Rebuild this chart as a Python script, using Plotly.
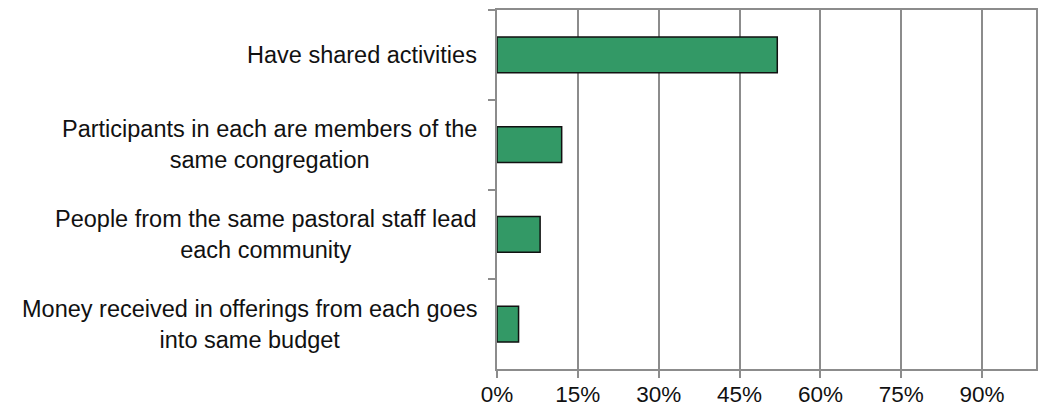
import plotly.graph_objects as go

# Survey items (top to bottom) and the share of respondents for each
categories = [
    "Have shared activities",
    "Participants in each are members of the<br>same congregation",
    "People from the same pastoral staff lead<br>each community",
    "Money received in offerings from each goes<br>into same budget",
]
shares = [0.52, 0.12, 0.08, 0.04]

x_tick_values = [0, 0.15, 0.30, 0.45, 0.60, 0.75, 0.90]
x_tick_labels = ["0%", "15%", "30%", "45%", "60%", "75%", "90%"]

line_gray = "#8c8c8c"
font_family = "Liberation Sans, Arial, sans-serif"

fig = go.Figure(
    go.Bar(
        x=shares,
        y=categories,
        orientation="h",
        width=0.4,
        marker=dict(color="#339966", line=dict(color="#111111", width=1.5)),
        hoverinfo="x+y",
    )
)

# Category labels: right-aligned block, each line centred within it
for cat in categories:
    fig.add_annotation(
        x=0,
        xref="paper",
        y=cat,
        yref="y",
        text=cat,
        showarrow=False,
        xanchor="right",
        yanchor="middle",
        align="center",
        xshift=-18,
        font=dict(family=font_family, size=23.5, color="#111111"),
    )

fig.update_layout(
    width=1039,
    height=409,
    margin=dict(l=497, r=3, t=10, b=40),
    paper_bgcolor="white",
    plot_bgcolor="white",
    showlegend=False,
    font=dict(family=font_family, size=23, color="#111111"),
)

fig.update_xaxes(
    range=[0, 1.0],
    tickvals=x_tick_values,
    ticktext=x_tick_labels,
    automargin=False,
    showgrid=True,
    gridcolor=line_gray,
    gridwidth=2,
    zeroline=False,
    showline=True,
    linecolor=line_gray,
    linewidth=2,
    mirror=True,
    ticks="outside",
    ticklen=7,
    tickwidth=2,
    tickcolor=line_gray,
    ticklabelstandoff=-3,
    tickfont=dict(size=22.5),
)

fig.update_yaxes(
    autorange="reversed",
    automargin=False,
    tickson="boundaries",
    ticks="outside",
    ticklen=7,
    tickwidth=2,
    tickcolor=line_gray,
    showticklabels=False,
    showgrid=False,
    zeroline=False,
    showline=True,
    linecolor=line_gray,
    linewidth=2,
    mirror=True,
)

fig.write_html("out.html")
